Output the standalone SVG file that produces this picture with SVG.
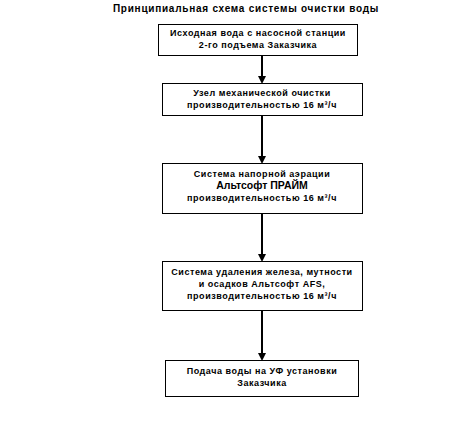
<svg xmlns="http://www.w3.org/2000/svg" width="470" height="429" viewBox="0 0 470 429">
<defs>
<style>
.box{fill:#fff;stroke:#000;stroke-width:1}
.t{font-family:"Liberation Sans",Arial,sans-serif;font-size:9px;font-weight:bold;fill:#000;text-anchor:middle;letter-spacing:0.55px}
.big{font-size:10.5px;letter-spacing:0}
.title{font-family:"Liberation Sans",Arial,sans-serif;font-size:10px;font-weight:bold;fill:#000;text-anchor:middle;letter-spacing:0.75px}
.c{stroke:#000;stroke-width:2;fill:none;marker-end:url(#ah)}
</style>
<marker id="ah" markerWidth="4" markerHeight="4" refX="3" refY="2" orient="auto" markerUnits="strokeWidth">
<path d="M0,0 L4,2 L0,4 z" fill="#000"/>
</marker>
</defs>
<rect width="470" height="429" fill="#fff"/>
<text class="title" x="246" y="12">Принципиальная схема системы очистки воды</text>
<g id="connectors">
<line class="c" x1="262" y1="55" x2="262" y2="82"/>
<line class="c" x1="262" y1="115" x2="262" y2="162"/>
<line class="c" x1="262" y1="213" x2="262" y2="260"/>
<line class="c" x1="262" y1="310" x2="262" y2="359"/>
</g>
<g id="n1">
<rect class="box" x="158.5" y="24.5" width="199" height="31"/>
<text class="t" x="258" y="36">Исходная вода с насосной станции</text>
<text class="t" x="258" y="48">2-го подъема Заказчика</text>
</g>
<g id="n2">
<rect class="box" x="162.5" y="83.5" width="200" height="32"/>
<text class="t" x="262" y="96">Узел механической очистки</text>
<text class="t" x="262" y="108">производительностью 16 м³/ч</text>
</g>
<g id="n3">
<rect class="box" x="162.5" y="163.5" width="200" height="50"/>
<text class="t" x="262" y="177">Система напорной аэрации</text>
<text class="t big" x="262" y="189">Альтсофт ПРАЙМ</text>
<text class="t" x="262" y="201">производительностью 16 м³/ч</text>
</g>
<g id="n4">
<rect class="box" x="162.5" y="261.5" width="200" height="49"/>
<text class="t" x="262" y="275">Система удаления железа, мутности</text>
<text class="t" x="262" y="287">и осадков Альтсофт AFS,</text>
<text class="t" x="262" y="299">производительностью 16 м³/ч</text>
</g>
<g id="n5">
<rect class="box" x="165.5" y="360.5" width="193" height="36"/>
<text class="t" x="262" y="374">Подача воды на УФ установки</text>
<text class="t" x="262" y="386">Заказчика</text>
</g>
</svg>
